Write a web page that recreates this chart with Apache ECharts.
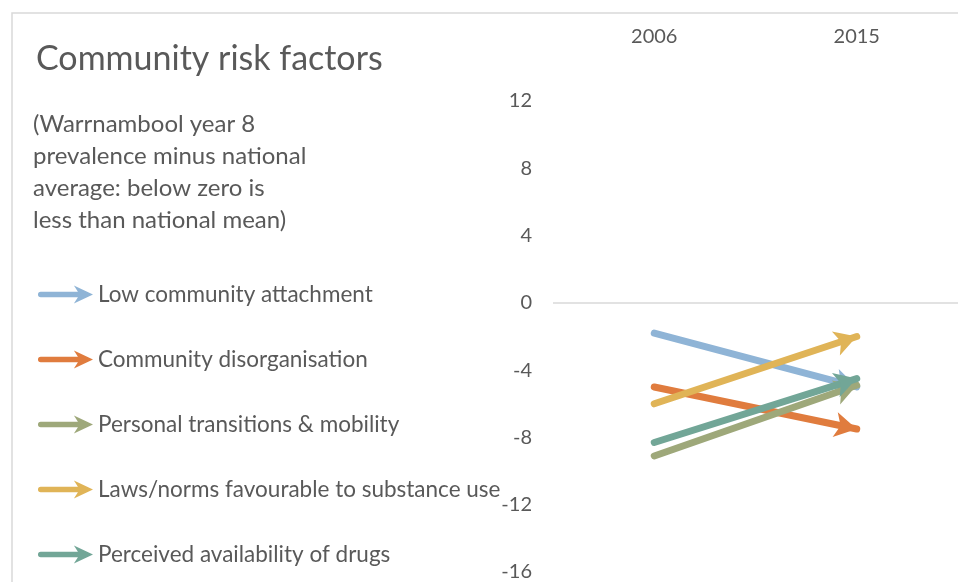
<!DOCTYPE html>
<html><head><meta charset="utf-8">
<script src="https://cdn.jsdelivr.net/npm/echarts@6/dist/echarts.min.js"></script>
<style>html,body{margin:0;padding:0;background:#fff}#c{width:958px;height:582px}</style>
</head><body><div id="c"></div>
<script>
const years = ['2006', '2015'];
const seriesNames = ['Low community attachment', 'Community disorganisation', 'Personal transitions & mobility', 'Laws/norms favourable to substance use', 'Perceived availability of drugs'];
const lowAttachment = [-1.8, -5.0];
const disorganisation = [-5.0, -7.5];
const transitions = [-9.1, -4.9];
const lawsNorms = [-6.0, -2.0];
const availability = [-8.3, -4.5];
const yTicks = [-16, -12, -8, -4, 0, 4, 8, 12];
const colors = ['#8FB4D6', '#E07C3E', '#9EA87A', '#E0B457', '#72A697'];
const values = [lowAttachment, disorganisation, transitions, lawsNorms, availability];

const font = 'Lato';
const arrowIcon = 'path://M3,6.3 L40,6.3 L36,0 L55,9 L36,18 L40,11.7 L3,11.7 A2.7,2.7 0 0 1 3,6.3 Z';

const chart = echarts.init(document.getElementById('c'), null, {renderer: 'canvas'});
const splitColors = yTicks.map(v => v === 0 ? '#d9d9d9' : 'rgba(0,0,0,0)');

chart.setOption({
  animation: false,
  textStyle: {fontFamily: font},
  graphic: [
    {type: 'rect', shape: {x: 12, y: 13, width: 1000, height: 1000}, style: {fill: 'none', stroke: '#d9d9d9', lineWidth: 1.5}, silent: true},
    {type: 'text', left: 36, top: 42, style: {text: 'Community risk factors', fontFamily: font, fontSize: 34, fill: '#595959'}},
    {type: 'text', left: 33, top: 108, style: {text: '(Warrnambool year 8\nprevalence minus national\naverage: below zero is\nless than national mean)', fontFamily: font, fontSize: 24, lineHeight: 32, fill: '#595959'}}
  ],
  legend: {
    orient: 'vertical', left: 33, top: 277,
    itemWidth: 55, itemHeight: 18, itemGap: 40,
    symbolKeepAspect: false,
    icon: arrowIcon,
    textStyle: {fontFamily: font, fontSize: 22.5, color: '#595959', lineHeight: 25},
    data: seriesNames
  },
  grid: {left: 553, top: 101, width: 410, height: 472, containLabel: false},
  xAxis: {
    type: 'category', data: years, position: 'top', boundaryGap: true,
    axisLine: {show: false}, axisTick: {show: false},
    axisLabel: {margin: 54, fontSize: 20, color: '#595959', fontFamily: font}
  },
  yAxis: {
    type: 'value', min: -16, max: 12, interval: 4,
    axisLine: {show: false}, axisTick: {show: false},
    axisLabel: {margin: 21, fontSize: 20, color: '#595959', fontFamily: font},
    splitLine: {show: true, lineStyle: {color: splitColors, width: 1.5}}
  },
  series: seriesNames.map((name, i) => ({
    name: name, type: 'line', data: values[i],
    color: colors[i],
    symbol: 'none',
    lineStyle: {width: 7, color: colors[i], opacity: 0},
    markLine: {
      silent: true, animation: false,
      symbol: ['none', 'arrow'], symbolSize: [19, 22],
      label: {show: false},
      lineStyle: {type: 'solid', width: 7, color: colors[i], opacity: 1, cap: 'round'},
      emphasis: {disabled: true},
      data: [[{coord: [0, values[i][0]]}, {coord: [1, values[i][1]]}]]
    }
  }))
});
</script></body></html>
